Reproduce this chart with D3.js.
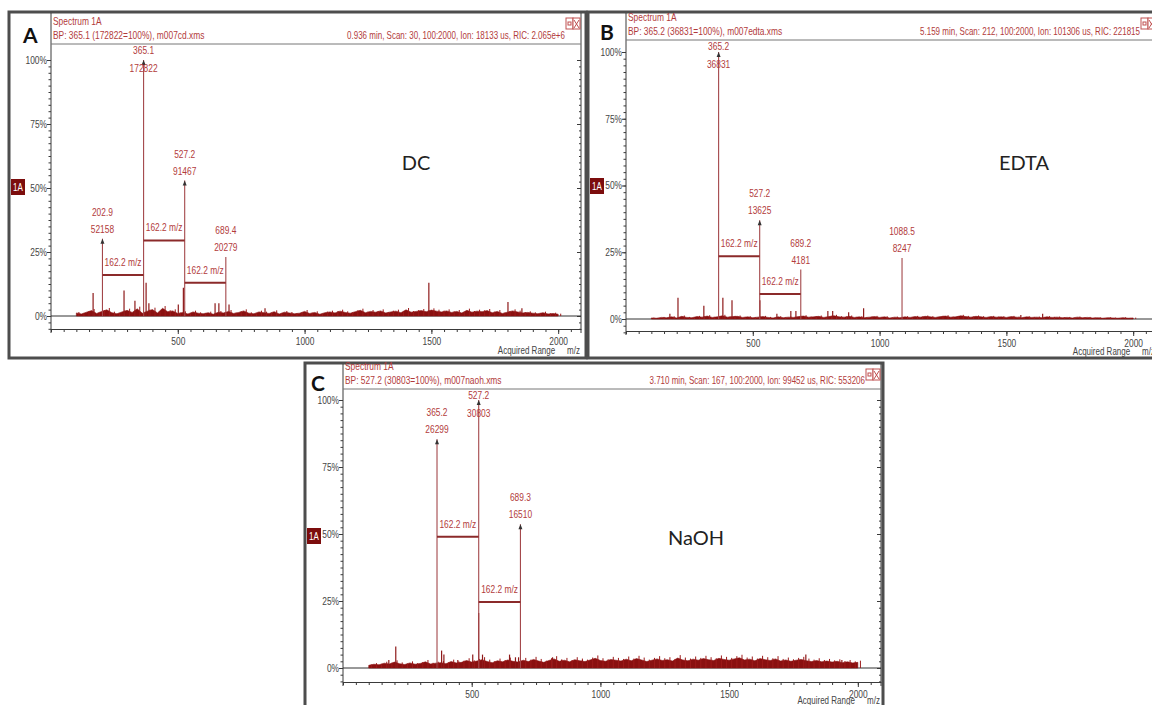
<!DOCTYPE html>
<html>
<head>
<meta charset="utf-8">
<script src="https://cdn.jsdelivr.net/npm/d3@7"></script>
<style>
  body { margin: 0; background: #fff; }
  svg { display: block; }
  .nar { font-family: "Liberation Sans", Arial, sans-serif; }
  .big { font-family: Lato, "Open Sans", sans-serif; }
</style>
</head>
<body>
<svg id="fig" width="1152" height="705"></svg>
<script>
// ---- shared axis values ----
var mzTicks = [500, 1000, 1500, 2000];
var pctTicks = [0, 25, 50, 75, 100];
var noiseStartMz = 100, noiseStepMz = 20;
var bracketLabel = "162.2 m/z";

// ---- panel A : DC ----
var headerA = ["Spectrum 1A", "BP: 365.1 (172822=100%), m007cd.xms", "0.936 min, Scan: 30, 100:2000, Ion: 18133 us, RIC: 2.065e+6"];
var peakMzA = [202.9, 365.1, 527.2, 689.4];
var peakIntA = [30.2, 100, 52.9, 23.0];
var peakTextA = [["202.9", "52158"], ["365.1", "172822"], ["527.2", "91467"], ["689.4", "20279"]];
var arrowA = [true, true, true, false];
var bracketA = [[202.9, 365.1, 16], [365.1, 527.2, 29.5], [527.2, 689.4, 13]];
var minorMzA = [166, 288, 331, 375, 386, 502, 522, 647, 662, 702, 844, 1132, 1490, 1802, 1857];
var minorIntA = [9, 10, 6, 13, 5, 4.5, 11, 5, 5, 4.5, 3, 2, 13, 5.5, 3];
var noiseA = [1.2,0.8,1.5,2.1,1.0,1.8,2.4,1.3,0.9,1.6, 2.2,1.4,2.8,1.1,1.9,2.5,1.2,3.0,1.7,2.0,
              1.0,1.4,0.8,1.6,1.1,0.9,1.3,0.7,1.5,1.2, 1.8,1.0,1.4,2.0,1.1,0.9,1.6,1.3,1.0,1.7,
              0.8,1.5,1.2,0.9,1.1,1.8,1.0,1.4,0.7,1.3, 1.6,1.2,1.9,1.4,1.1,1.7,2.2,1.3,1.8,1.5,
              2.0,1.2,1.6,1.9,1.3,2.4,1.5,1.8,2.1,1.7, 2.3,1.9,1.6,2.0,1.4,1.8,1.2,2.2,1.5,1.9,
              1.7,2.1,1.3,1.8,1.0,1.5,2.0,1.6,1.2,1.4, 1.1,0.9,1.3,0.8,1.0,0.7];

// ---- panel B : EDTA ----
var headerB = ["Spectrum 1A", "BP: 365.2 (36831=100%), m007edta.xms", "5.159 min, Scan: 212, 100:2000, Ion: 101306 us, RIC: 221815"];
var peakMzB = [365.2, 527.2, 689.2, 1088.5];
var peakIntB = [100, 37, 18.5, 22.8];
var peakTextB = [["365.2", "36831"], ["527.2", "13625"], ["689.2", "4181"], ["1088.5", "8247"]];
var arrowB = [true, true, false, false];
var bracketB = [[365.2, 527.2, 23.5], [527.2, 689.2, 9.4]];
var minorMzB = [173, 205, 307, 382, 418, 528, 595, 650, 670, 796, 815, 878, 937, 1557, 1643];
var minorIntB = [2, 8, 5, 8, 7, 7, 2, 3, 3, 3, 3, 2.5, 4, 1.5, 2];
var noiseB = [0.4,0.3,0.6,0.5,0.8,0.4,1.0,0.6,0.5,0.9, 0.7,1.1,0.6,0.8,1.2,0.7,0.9,1.0,0.6,0.8,
              0.5,0.7,0.9,0.6,0.4,0.8,0.5,0.7,0.6,0.9, 1.1,0.7,0.8,1.0,0.6,0.9,1.2,0.8,0.7,1.0,
              0.6,0.8,0.5,0.7,0.9,0.6,0.8,0.4,0.7,0.5, 0.8,0.6,0.9,0.7,1.0,0.8,0.6,0.9,1.1,0.7,
              0.8,1.2,0.9,0.7,1.0,0.8,0.6,0.9,0.7,0.8, 0.6,0.9,0.7,0.5,0.8,0.6,0.7,0.5,0.8,0.6,
              0.7,0.5,0.6,0.4,0.7,0.5,0.6,0.4,0.5,0.3, 0.5,0.4,0.3,0.5,0.3,0.4];

// ---- panel C : NaOH ----
var headerC = ["Spectrum 1A", "BP: 527.2 (30803=100%), m007naoh.xms", "3.710 min, Scan: 167, 100:2000, Ion: 99452 us, RIC: 553206"];
var peakMzC = [365.2, 527.2, 689.3];
var peakIntC = [85.4, 100, 53.6];
var peakTextC = [["365.2", "26299"], ["527.2", "30803"], ["689.3", "16510"]];
var arrowC = [true, true, true];
var bracketC = [[365.2, 527.2, 49], [527.2, 689.3, 24.6]];
var minorMzC = [178, 205, 383, 392, 446, 504, 527, 542, 647, 670, 682, 814, 849, 930, 1798, 1938];
var minorIntC = [3, 8, 6.5, 5, 3, 5, 20.5, 5, 5, 4, 4, 4, 3, 3, 5, 3];
var noiseC = [1.0,1.4,1.2,1.8,1.5,2.2,1.6,1.3,1.9,1.4, 1.7,2.3,1.5,1.8,2.0,1.6,2.4,1.9,2.1,2.8,
              2.2,2.6,3.1,2.4,2.0,2.7,2.3,3.0,2.5,2.2, 2.9,2.4,3.2,2.6,2.1,2.8,3.4,2.5,2.9,2.3,
              3.1,2.7,2.4,3.0,3.6,2.8,2.5,3.2,2.9,2.6, 3.3,2.7,3.5,3.0,2.4,2.9,3.4,2.8,3.1,2.6,
              3.7,3.0,2.7,3.3,2.9,3.5,3.1,2.8,3.6,3.2, 2.9,3.4,3.8,3.0,3.3,2.7,3.5,3.1,2.8,3.4,
              2.6,3.0,2.5,2.9,3.2,2.7,2.4,2.8,2.3,2.6, 2.2,2.5,2.0,2.3,1.9,2.1];

// ---- layout (pixels) ----
var panels = [
  { letter: "A", name: "DC", frame: [9, 12, 586, 358], plotL: 51, plotR: 581, top: 13, hdr: 44,
    y0: 316, y100: 60, axisY: 329, rangeDy: 25, nameX: 416, nameY: 170, letterX: 23, letterY: 43, boxY: 179,
    header: headerA, mz: peakMzA, inten: peakIntA, text: peakTextA, arrow: arrowA, br: bracketA,
    minMz: minorMzA, minInt: minorIntA, noise: noiseA },
  { letter: "B", name: "EDTA", frame: [588, 12, 1165, 358], plotL: 626, plotR: 1156, top: 13, hdr: 40,
    y0: 319, y100: 52, axisY: 331, rangeDy: 24, nameX: 1024, nameY: 170, letterX: 600, letterY: 40, boxY: 178,
    header: headerB, mz: peakMzB, inten: peakIntB, text: peakTextB, arrow: arrowB, br: bracketB,
    minMz: minorMzB, minInt: minorIntB, noise: noiseB },
  { letter: "C", name: "NaOH", frame: [305, 363, 883, 720], plotL: 343, plotR: 881, top: 364, hdr: 389,
    y0: 668, y100: 400, axisY: 682, rangeDy: 22, nameX: 696, nameY: 545, letterX: 311, letterY: 391, boxY: 528,
    header: headerC, mz: peakMzC, inten: peakIntC, text: peakTextC, arrow: arrowC, br: bracketC,
    minMz: minorMzC, minInt: minorIntC, noise: noiseC }
];

var svg = d3.select("#fig");
var RED_TXT = "#b23b3b", RED_LINE = "#a3474a", RED_DARK = "#8a1010", GRAY = "#3a3a3a";
var SQ = 0.8; // horizontal squeeze to imitate the narrow instrument font

function narrow(g, x, y, str, size, fill, anchor) {
  return g.append("text").attr("class", "nar")
    .attr("transform", "translate(" + x + "," + y + ") scale(" + SQ + ",1)")
    .attr("text-anchor", anchor || "start").attr("font-size", size).attr("fill", fill).text(str);
}

function drawPanel(p) {
  var g = svg.append("g");
  var x = d3.scaleLinear().domain([0, 2090]).range([p.plotL, p.plotR]);
  var y = d3.scaleLinear().domain([0, 100]).range([p.y0, p.y100]);

  // outer frame
  g.append("rect")
    .attr("x", p.frame[0]).attr("y", p.frame[1])
    .attr("width", p.frame[2] - p.frame[0]).attr("height", p.frame[3] - p.frame[1])
    .attr("fill", "#fff").attr("stroke", "#4d4d4d").attr("stroke-width", 3);

  // plot box: left, right, header line
  g.append("line").attr("x1", p.plotL).attr("x2", p.plotL).attr("y1", p.top).attr("y2", p.axisY + 4)
    .attr("stroke", GRAY);
  g.append("line").attr("x1", p.plotR).attr("x2", p.plotR).attr("y1", p.top).attr("y2", p.axisY + 4)
    .attr("stroke", GRAY);
  g.append("line").attr("x1", p.plotL).attr("x2", p.plotR).attr("y1", p.hdr).attr("y2", p.hdr)
    .attr("stroke", "#777");

  // header texts
  narrow(g, p.plotL + 2, p.hdr - 19, p.header[0], 10.5, RED_TXT);
  narrow(g, p.plotL + 2, p.hdr - 5, p.header[1], 10.5, RED_TXT);
  narrow(g, p.plotR - 16, p.hdr - 5, p.header[2], 10, RED_TXT, "end");
  // window icons
  [0, 1].forEach(function (i) {
    var bx = p.plotR - 15 + i * 7, by = p.top + 5;
    g.append("rect").attr("x", bx).attr("y", by).attr("width", 7).attr("height", 11)
      .attr("fill", "#fff").attr("stroke", "#c05050").attr("stroke-width", 1);
    if (i === 0) {
      g.append("rect").attr("x", bx + 2).attr("y", by + 4).attr("width", 3).attr("height", 3)
        .attr("fill", "none").attr("stroke", "#c05050");
    } else {
      g.append("path").attr("d", "M" + (bx + 1) + "," + (by + 2) + "L" + (bx + 6) + "," + (by + 10) +
        "M" + (bx + 6) + "," + (by + 2) + "L" + (bx + 1) + "," + (by + 10))
        .attr("stroke", "#c05050").attr("fill", "none");
    }
  });

  // panel letter and condition name
  g.append("text").attr("class", "big").attr("x", p.letterX).attr("y", p.letterY)
    .attr("font-size", 21).attr("font-weight", "bold").attr("fill", "#111").text(p.letter);
  g.append("text").attr("class", "big").attr("x", p.nameX).attr("y", p.nameY)
    .attr("text-anchor", "middle").attr("font-size", 20).attr("fill", "#222").text(p.name);

  // "1A" marker box
  g.append("rect").attr("x", p.frame[0] + 2).attr("y", p.boxY).attr("width", 14).attr("height", 16)
    .attr("fill", "#7c0d0d");
  narrow(g, p.frame[0] + 9, p.boxY + 12, "1A", 10, "#fff", "middle");

  // y axis (left) with minor ticks
  var minorPct = d3.range(-5, 100.1, 2.5);
  var yAxis = d3.axisLeft(y).tickValues(pctTicks).tickSize(4).tickPadding(1)
    .tickFormat(function (d) { return d + "%"; });
  var ya = g.append("g").attr("transform", "translate(" + p.plotL + ",0)").call(yAxis);
  ya.select(".domain").remove();
  ya.selectAll("text").attr("class", "nar").attr("font-size", 10.5).attr("fill", "#444")
    .attr("transform", "scale(" + SQ + ",1)");
  ya.selectAll("line").attr("stroke", GRAY);
  var ym = g.append("g").attr("transform", "translate(" + p.plotL + ",0)")
    .call(d3.axisLeft(y).tickValues(minorPct).tickSize(2.5).tickFormat(""));
  ym.select(".domain").remove();
  ym.selectAll("line").attr("stroke", GRAY);
  // right side ticks (inside)
  var yr = g.append("g").attr("transform", "translate(" + p.plotR + ",0)")
    .call(d3.axisLeft(y).tickValues(minorPct).tickSize(0).tickFormat(""));
  yr.select(".domain").remove();
  yr.selectAll(".tick line").attr("x2", function (d) { return d % 25 === 0 ? -4 : -2; }).attr("stroke", GRAY);

  // x axis
  var minorMz = d3.range(0, 2051, 50);
  var xa = g.append("g").attr("transform", "translate(0," + p.axisY + ")")
    .call(d3.axisBottom(x).tickValues(mzTicks).tickSize(5).tickSizeOuter(0).tickPadding(4)
      .tickFormat(d3.format("d")));
  xa.select(".domain").attr("stroke", GRAY);
  xa.selectAll("text").attr("class", "nar").attr("font-size", 10.5).attr("fill", "#444")
    .attr("transform", "scale(" + SQ + ",1)");
  xa.selectAll("line").attr("stroke", GRAY);
  var xm = g.append("g").attr("transform", "translate(0," + p.axisY + ")")
    .call(d3.axisBottom(x).tickValues(minorMz).tickSize(3).tickFormat(""));
  xm.select(".domain").remove();
  xm.selectAll("line").attr("stroke", GRAY);

  narrow(g, x(2000) - 3, p.axisY + p.rangeDy, "Acquired Range", 10, "#444", "end");
  narrow(g, p.plotR - 1, p.axisY + p.rangeDy, "m/z", 10, "#444", "end");

  // zero baseline
  g.append("line").attr("x1", p.plotL).attr("x2", p.plotR).attr("y1", y(0)).attr("y2", y(0))
    .attr("stroke", "#333");

  // noise carpet
  var noisePts = p.noise.map(function (v, i) { return [noiseStartMz + i * noiseStepMz, v]; });
  g.append("path").datum(noisePts)
    .attr("d", d3.area().x(function (d) { return x(d[0]); }).y0(y(0)).y1(function (d) { return y(d[1]); }))
    .attr("fill", RED_DARK).attr("stroke", RED_DARK).attr("stroke-width", 0.6);
  g.selectAll(null).data(noisePts).enter().append("line")
    .attr("x1", function (d) { return x(d[0] + 10); }).attr("x2", function (d) { return x(d[0] + 10); })
    .attr("y1", y(0)).attr("y2", function (d) { return y(d[1] * 1.3); })
    .attr("stroke", "#9c1a1a").attr("stroke-width", 1);

  // minor peaks
  g.selectAll(null).data(p.minMz).enter().append("line")
    .attr("x1", function (d) { return x(d); }).attr("x2", function (d) { return x(d); })
    .attr("y1", y(0)).attr("y2", function (d, i) { return y(p.minInt[i]); })
    .attr("stroke", "#8e1a1a").attr("stroke-width", 1.2);

  // labelled peaks
  p.mz.forEach(function (m, i) {
    var px = x(m), tip = y(p.inten[i]);
    g.append("line").attr("x1", px).attr("x2", px).attr("y1", y(0)).attr("y2", tip)
      .attr("stroke", RED_LINE).attr("stroke-width", 1.1);
    if (p.arrow[i]) {
      g.append("path").attr("d", "M" + (px - 2) + "," + (tip + 5) + "L" + px + "," + tip + "L" + (px + 2) + "," + (tip + 5) + "Z")
        .attr("fill", "#333");
    }
    var l2 = tip - 6, l1 = l2 - 17;
    if (l1 < p.hdr + 10) { l1 = p.hdr + 10; l2 = l1 + 18; }
    narrow(g, px, l1, p.text[i][0], 10.5, RED_TXT, "middle");
    narrow(g, px, l2, p.text[i][1], 10.5, RED_TXT, "middle");
  });

  // 162.2 m/z brackets
  p.br.forEach(function (b) {
    var yy = y(b[2]);
    g.append("line").attr("x1", x(b[0])).attr("x2", x(b[1])).attr("y1", yy).attr("y2", yy)
      .attr("stroke", "#8b2a2a").attr("stroke-width", 2);
    narrow(g, (x(b[0]) + x(b[1])) / 2, yy - 9, bracketLabel, 10.5, RED_TXT, "middle");
  });
}

panels.forEach(drawPanel);
</script>
</body>
</html>
